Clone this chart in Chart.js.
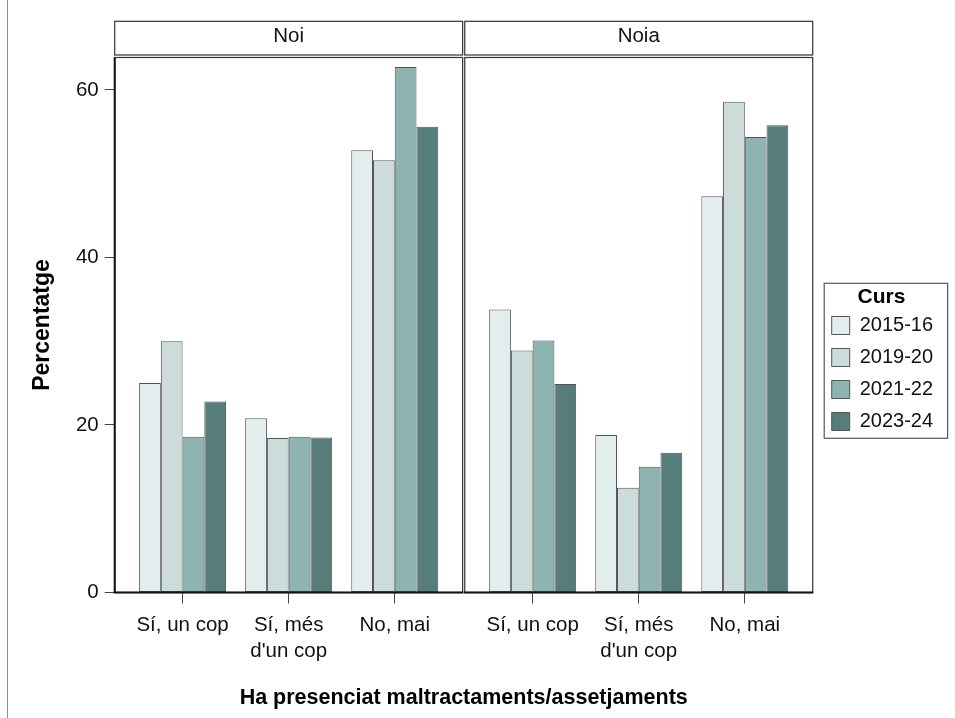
<!DOCTYPE html>
<html>
<head>
<meta charset="utf-8">
<script src="https://cdn.jsdelivr.net/npm/chart.js@4/dist/chart.umd.min.js"></script>
<style>
  html, body { margin: 0; padding: 0; background: #ffffff; }
  #wrap { position: relative; width: 955px; height: 718px; }
</style>
</head>
<body>
<div id="wrap"><canvas id="chart" width="955" height="718"></canvas></div>
<script>
// ---- data ----
const categories = ['Sí, un cop', ['Sí, més', "d'un cop"], 'No, mai'];
const panels = ['Noi', 'Noia'];
const cursos = ['2015-16', '2019-20', '2021-22', '2023-24'];
const yTicks = [0, 20, 40, 60];

const noi_2015_16 = [25.0, 20.8, 52.8];
const noi_2019_20 = [30.0, 18.45, 51.6];
const noi_2021_22 = [18.6, 18.6, 62.75];
const noi_2023_24 = [22.8, 18.5, 55.6];

const noia_2015_16 = [33.8, 18.8, 47.3];
const noia_2019_20 = [28.9, 12.5, 58.6];
const noia_2021_22 = [30.1, 15.0, 54.4];
const noia_2023_24 = [24.9, 16.7, 55.8];

const xTitle = 'Ha presenciat maltractaments/assetjaments';
const yTitle = 'Percentatge';
const legendTitle = 'Curs';

// ---- facet layout (in category units) ----
const PAD = 0.64;          // discrete axis expansion on each side of a panel
const PANEL_STEP = 3.30;   // distance between the two panels' first categories

// ---- styles ----
const FONT = "'Liberation Sans', Arial, Helvetica, sans-serif";
const barColors = ['#e2eeed', '#cbdcdb', '#8db4b1', '#577d7a'];
const barBorder = '#555555';

const panelSeries = [
  [noi_2015_16, noi_2019_20, noi_2021_22, noi_2023_24],
  [noia_2015_16, noia_2019_20, noia_2021_22, noia_2023_24]
];

const datasets = [];
panelSeries.forEach((series, p) => {
  series.forEach((vals, k) => {
    datasets.push({
      label: cursos[k],
      data: vals.map((v, i) => ({ x: i + p * PANEL_STEP, y: v })),
      xAxisID: 'x',
      yAxisID: 'y',
      stack: 'curs' + k,
      backgroundColor: barColors[k],
      borderColor: barBorder,
      borderWidth: 1,
      borderSkipped: false,
      categoryPercentage: 0.82,
      barPercentage: 1
    });
  });
});

const xMin = -PAD;
const xMax = (panels.length - 1) * PANEL_STEP + (categories.length - 1) + PAD;
const catTickValues = [];
panels.forEach((_, p) => categories.forEach((_, i) => catTickValues.push(i + p * PANEL_STEP)));
const stripTickValues = panels.map((_, p) => p * PANEL_STEP + (categories.length - 1) / 2);

const scales = {
  x: {
    type: 'linear',
    position: 'bottom',
    min: xMin,
    max: xMax,
    bounds: 'data',
    offset: false,
    afterBuildTicks: s => { s.ticks = catTickValues.map(v => ({ value: v })); },
    afterFit: s => { s.height = 89.1; },
    grid: { display: true, offset: false, drawOnChartArea: false, drawTicks: true, tickLength: 11, color: '#444444', lineWidth: 1 },
    border: { display: false },
    ticks: {
      callback: (v, idx) => categories[idx % categories.length],
      font: { family: FONT, size: 20.5, lineHeight: 1.24 },
      color: '#111111',
      padding: 9.6,
      maxRotation: 0,
      minRotation: 0,
      autoSkip: false
    }
  },
  strip: {
    type: 'linear',
    axis: 'x',
    position: 'top',
    min: xMin,
    max: xMax,
    bounds: 'data',
    offset: false,
    afterBuildTicks: s => { s.ticks = stripTickValues.map(v => ({ value: v })); },
    afterFit: s => { s.height = 45.3; },
    grid: { display: false, drawTicks: false },
    border: { display: false },
    ticks: {
      callback: (v, idx) => panels[idx],
      font: { family: FONT, size: 20.5 },
      color: '#111111',
      padding: 9,
      maxRotation: 0,
      minRotation: 0,
      autoSkip: false
    }
  },
  y: {
    type: 'linear',
    position: 'left',
    stacked: false,
    min: 0,
    max: 63.88,
    afterBuildTicks: s => { s.ticks = yTicks.map(v => ({ value: v })); },
    afterFit: s => { s.width = 114.7; },
    grid: { display: true, drawOnChartArea: false, drawTicks: true, tickLength: 10, color: '#444444', lineWidth: 1 },
    border: { display: false },
    ticks: { font: { family: FONT, size: 20.5 }, color: '#111111', padding: 6 },
    title: {
      display: true, text: yTitle, color: '#000000',
      font: { family: FONT, size: 23, weight: 'bold', lineHeight: 1.2 },
      padding: { top: 29, bottom: 0 }
    }
  },
  yR: {
    type: 'linear',
    position: 'right',
    display: true,
    afterFit: s => { s.width = 7; },
    grid: { display: false, drawTicks: false },
    border: { display: false },
    ticks: { display: false }
  }
};

const facetPlugin = {
  id: 'facets',
  beforeDraw(chart) {
    const ctx = chart.ctx;
    ctx.save();
    ctx.strokeStyle = '#8c8c8c';
    ctx.lineWidth = 1;
    ctx.beginPath();
    ctx.moveTo(7.5, 0);
    ctx.lineTo(7.5, chart.height);
    ctx.stroke();
    ctx.restore();
  },
  afterDatasetsDraw(chart) {
    const ctx = chart.ctx;
    const { top, bottom } = chart.chartArea;
    const sx = chart.scales.x;
    const bounds = panels.map((_, p) => [
      sx.getPixelForValue(p * PANEL_STEP - PAD),
      sx.getPixelForValue(p * PANEL_STEP + categories.length - 1 + PAD)
    ]);
    ctx.save();
    bounds.forEach(([l, r]) => {
      ctx.strokeStyle = '#333333';
      ctx.lineWidth = 1.2;
      ctx.strokeRect(l, top, r - l, bottom - top);
      ctx.strokeRect(l, top - 36.2, r - l, 33.7);
      ctx.strokeStyle = '#111111';
      ctx.lineWidth = 2;
      ctx.beginPath();
      ctx.moveTo(l - 1, bottom);
      ctx.lineTo(r + 0.6, bottom);
      ctx.stroke();
    });
    ctx.strokeStyle = '#111111';
    ctx.lineWidth = 2;
    ctx.beginPath();
    ctx.moveTo(bounds[0][0], top);
    ctx.lineTo(bounds[0][0], bottom);
    ctx.stroke();
    ctx.restore();
  },
  afterDraw(chart) {
    const lg = chart.legend;
    const hb = lg && lg.legendHitBoxes;
    if (!hb || !hb.length) return;
    const first = hb[0], last = hb[hb.length - 1];
    const x0 = first.left - 7.5;
    const y0 = first.top + first.height / 2 - 42.2;
    const y1 = last.top + last.height / 2 + 16.8;
    const ctx = chart.ctx;
    ctx.save();
    ctx.strokeStyle = '#555555';
    ctx.lineWidth = 1.2;
    ctx.strokeRect(x0, y0, 123.4, y1 - y0);
    ctx.restore();
  }
};

new Chart(document.getElementById('chart'), {
  type: 'bar',
  data: { datasets },
  options: {
    responsive: false,
    devicePixelRatio: 1,
    animation: false,
    layout: { padding: { left: 0, right: 11.9, top: 12.2, bottom: 0 } },
    scales,
    plugins: {
      tooltip: { enabled: false },
      title: {
        display: true,
        position: 'bottom',
        fullSize: false,
        text: xTitle,
        color: '#000000',
        font: { family: FONT, size: 21.5, weight: 'bold', lineHeight: 1.2 },
        padding: { top: 4, bottom: 6.6 }
      },
      legend: {
        display: true,
        position: 'right',
        align: 'center',
        fullSize: true,
        labels: {
          filter: item => item.datasetIndex < cursos.length,
          boxWidth: 18,
          boxHeight: 18,
          padding: 12,
          color: '#111111',
          font: { family: FONT, size: 20 }
        },
        title: {
          display: true,
          text: legendTitle,
          color: '#000000',
          position: 'center',
          padding: 0,
          font: { family: FONT, size: 21, weight: 'bold', lineHeight: 0.8 }
        }
      }
    }
  },
  plugins: [facetPlugin]
});
</script>
</body>
</html>
